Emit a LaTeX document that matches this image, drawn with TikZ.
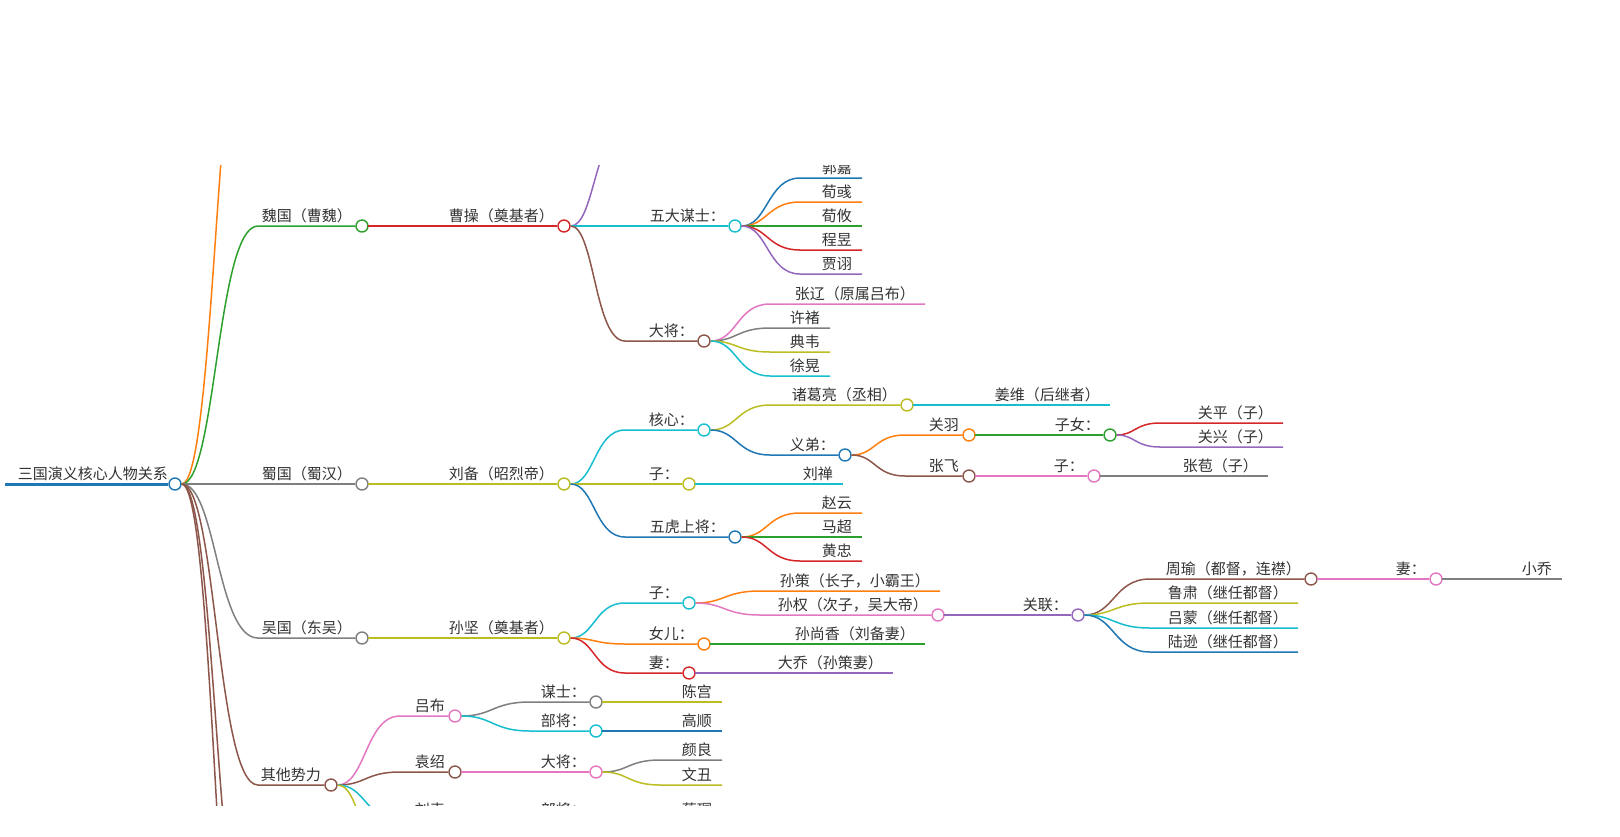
\documentclass[tikz,border=0pt]{standalone}
\usepackage{fontspec}
\setmainfont{Noto Sans CJK SC}
\usetikzlibrary{calc}
\definecolor{cblue}{HTML}{1F77B4}
\definecolor{corange}{HTML}{FF7F0E}
\definecolor{cgreen}{HTML}{2CA02C}
\definecolor{cred}{HTML}{D62728}
\definecolor{cpurple}{HTML}{9467BD}
\definecolor{cbrown}{HTML}{8C564B}
\definecolor{cpink}{HTML}{E377C2}
\definecolor{cgray}{HTML}{7F7F7F}
\definecolor{colive}{HTML}{BCBD22}
\definecolor{ccyan}{HTML}{17BECF}
\definecolor{ctext}{HTML}{333333}
\tikzset{
 dot/.style={circle,draw=#1,fill=white,line width=1.4pt,minimum size=12pt,inner sep=0pt},
 ln/.style={draw=#1,line width=1.5pt},
 lab/.style={anchor=base east,inner sep=0pt,text=ctext,font=\fontsize{15}{18}\selectfont}
}
\newcommand\mminner[7]{%
 \coordinate (#2s) at (#3,#4);
 \node[dot=#6] (#2) at (#5,#4) {};
 \coordinate (#2m) at ($(#1)!.5!(#2s)$);
 \draw[ln=#6] (#1.east) .. controls (#1 -| #2m) and (#2s -| #2m) .. (#2s) -- (#2.west);
 \node[lab] at ($(#2)+(-10,-5)$) {#7};
}
\newcommand\mmleaf[7]{%
 \coordinate (#2s) at (#3,#4);
 \coordinate (#2) at (#5,#4);
 \coordinate (#2m) at ($(#1)!.5!(#2s)$);
 \draw[ln=#6] (#1.east) .. controls (#1 -| #2m) and (#2s -| #2m) .. (#2s) -- (#2);
 \node[lab] at ($(#2)+(-10,-5)$) {#7};
}
\begin{document}
\begin{tikzpicture}[x=1pt,y=-1pt]
\fill[white] (0,0) rectangle (1620,836);
\begin{scope}
\clip (0,165) rectangle (1620,805);
\coordinate (rs) at (5,484);
\node[dot=cblue] (root) at (175,484) {};
\draw[draw=cblue,line width=3pt] (rs) -- (root.west);
\node[lab] at (168,479) {三国演义核心人物关系};
% level 1
\mminner{root}{o1}{258}{-60}{362}{corange}{}
\mminner{root}{wei}{258}{226}{362}{cgreen}{魏国（曹魏）}
\mminner{root}{shu}{258}{484}{362}{cgray}{蜀国（蜀汉）}
\mminner{root}{wu}{258}{638}{362}{cgray}{吴国（东吴）}
\mminner{root}{qt}{258}{785}{331}{cbrown}{其他势力}
\mminner{root}{b1}{258}{1000}{362}{cbrown}{}
\mminner{root}{b2}{258}{1150}{362}{cbrown}{}
% wei
\mminner{wei}{cc}{372}{226}{564}{cred}{曹操（奠基者）}
\mminner{cc}{cp}{625}{130}{735}{cpurple}{}
\mminner{cc}{mou}{625}{226}{735}{ccyan}{五大谋士：}
\mminner{cc}{dj}{625}{341}{704}{cbrown}{大将：}
\mmleaf{mou}{gj}{800}{178}{862}{cblue}{郭嘉}
\mmleaf{mou}{xy}{800}{202}{862}{corange}{荀彧}
\mmleaf{mou}{xyo}{800}{226}{862}{cgreen}{荀攸}
\mmleaf{mou}{cy}{800}{250}{862}{cred}{程昱}
\mmleaf{mou}{jx}{800}{274}{862}{cpurple}{贾诩}
\mmleaf{dj}{zl}{770}{304}{925}{cpink}{张辽（原属吕布）}
\mmleaf{dj}{xc}{770}{328}{830}{cgray}{许褚}
\mmleaf{dj}{dw}{770}{352}{830}{colive}{典韦}
\mmleaf{dj}{xh}{770}{376}{830}{ccyan}{徐晃}
% shu
\mminner{shu}{lb}{372}{484}{564}{colive}{刘备（昭烈帝）}
\mminner{lb}{hx}{625}{430}{704}{ccyan}{核心：}
\mminner{lb}{lz}{625}{484}{689}{colive}{子：}
\mminner{lb}{wh}{625}{537}{735}{cblue}{五虎上将：}
\mminner{hx}{zg}{770}{405}{907}{colive}{诸葛亮（丞相）}
\mminner{hx}{yd}{770}{455}{845}{cblue}{义弟：}
\mmleaf{zg}{jw}{917}{405}{1110}{ccyan}{姜维（后继者）}
\mminner{yd}{gy}{905}{435}{969}{corange}{关羽}
\mminner{yd}{zf}{905}{476}{969}{cbrown}{张飞}
\mminner{gy}{zn}{979}{435}{1110}{cgreen}{子女：}
\mmleaf{zn}{gp}{1160}{423}{1283}{cred}{关平（子）}
\mmleaf{zn}{gx}{1160}{447}{1283}{cpurple}{关兴（子）}
\mminner{zf}{zfz}{979}{476}{1094}{cpink}{子：}
\mmleaf{zfz}{zb}{1104}{476}{1268}{cgray}{张苞（子）}
\mmleaf{lz}{ls}{699}{484}{843}{ccyan}{刘禅}
\mmleaf{wh}{zy1}{800}{513}{862}{corange}{赵云}
\mmleaf{wh}{mc}{800}{537}{862}{cgreen}{马超}
\mmleaf{wh}{hz}{800}{561}{862}{cred}{黄忠}
% wu
\mminner{wu}{sj}{372}{638}{564}{colive}{孙坚（奠基者）}
\mminner{sj}{sz}{625}{603}{689}{ccyan}{子：}
\mminner{sj}{ne}{625}{644}{704}{corange}{女儿：}
\mminner{sj}{qi}{625}{673}{689}{cred}{妻：}
\mmleaf{sz}{sc}{760}{591}{940}{corange}{孙策（长子，小霸王）}
\mminner{sz}{sq}{760}{615}{938}{cpink}{孙权（次子，吴大帝）}
\mminner{sq}{gl}{948}{615}{1078}{cpurple}{关联：}
\mminner{gl}{zy}{1150}{579}{1311}{cbrown}{周瑜（都督，连襟）}
\mmleaf{gl}{ls2}{1150}{603}{1298}{colive}{鲁肃（继任都督）}
\mmleaf{gl}{lm}{1150}{628}{1298}{ccyan}{吕蒙（继任都督）}
\mmleaf{gl}{lx}{1150}{652}{1298}{cblue}{陆逊（继任都督）}
\mminner{zy}{zyq}{1321}{579}{1436}{cpink}{妻：}
\mmleaf{zyq}{xq}{1446}{579}{1562}{cgray}{小乔}
\mmleaf{ne}{ssx}{714}{644}{925}{cgreen}{孙尚香（刘备妻）}
\mmleaf{qi}{dq}{699}{673}{893}{cpurple}{大乔（孙策妻）}
% others
\mminner{qt}{lvb}{400}{716}{455}{cpink}{吕布}
\mminner{qt}{ys}{400}{772}{455}{cbrown}{袁绍}
\mminner{qt}{lbi}{400}{820}{455}{ccyan}{刘表}
\mminner{qt}{q4}{400}{900}{455}{colive}{}
\mminner{lvb}{ms}{530}{702}{596}{cgray}{谋士：}
\mminner{lvb}{bj}{530}{731}{596}{ccyan}{部将：}
\mmleaf{ms}{cg}{606}{702}{722}{colive}{陈宫}
\mmleaf{bj}{gs}{606}{731}{722}{cblue}{高顺}
\mminner{ys}{dj2}{465}{772}{596}{cpink}{大将：}
\mmleaf{dj2}{yl}{660}{760}{722}{cgray}{颜良}
\mmleaf{dj2}{wc}{660}{785}{722}{colive}{文丑}
\mminner{lbi}{bj2}{465}{820}{596}{cgray}{部将：}
\mmleaf{bj2}{cm}{606}{820}{722}{corange}{蔡瑁}
\end{scope}
\pgfresetboundingbox
\path[use as bounding box] (0,0) rectangle (1620,836);
\end{tikzpicture}
\end{document}
